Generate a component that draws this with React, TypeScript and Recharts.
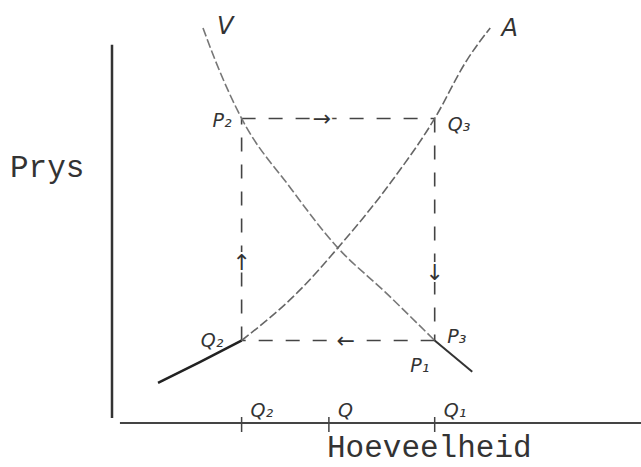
import React from 'react';
import {ComposedChart, Line, XAxis, YAxis, ReferenceLine, ReferenceDot} from 'recharts';

// V = vraag, A = aanbod (units 0..10 on both axes)
const demandQ = [1.72, 1.95, 2.45, 3.36, 4.27, 5.16, 6.1, 6.81];
const demandP = [9.34, 8.58, 7.2, 5.58, 4.14, 3.1, 1.95, 1.21];
const supplyQ = [0.87, 1.66, 2.45, 3.55, 4.27, 5.26, 6.1, 6.71, 7.15];
const supplyP = [0.95, 1.44, 1.95, 3.14, 4.14, 5.67, 7.2, 8.58, 9.34];

const qTicks = [2.45, 4.1, 6.1];
const qTickLabels = ['Q₂', 'Q', 'Q₁'];

// corners of the cobweb: Q2 / Q1 and P1 / P2
const cobwebQ = [2.45, 6.1];
const cobwebP = [1.95, 7.2];

const arrowQ = [3.97, 6.1, 4.42, 2.45];
const arrowP = [7.2, 3.55, 1.95, 3.8];
const arrowGlyphs = ['→', '↓', '←', '↑'];

const pointLabels = ['V', 'A', 'P₂', 'Q₃', 'Q₂', 'P₃', 'P₁'];
const pointLabelQ = [2.14, 7.52, 2.08, 6.56, 1.89, 6.52, 5.82];
const pointLabelP = [9.39, 9.34, 7.16, 7.07, 1.96, 2.06, 1.37];

const toPoints = (qs: number[], ps: number[]) => qs.map((q, i) => ({q, p: ps[i]}));
const demand = toPoints(demandQ, demandP);
const supply = toPoints(supplyQ, supplyP);

const typeFont = '"Liberation Mono", "Courier New", monospace';
const handFont = '"DejaVu Sans", sans-serif';

const Tag = (props: any) => {
	const vb = props.viewBox;
	return <text x={vb.x + vb.width / 2} y={vb.y + vb.height / 2} textAnchor="middle" dominantBaseline="central"
		fontFamily={handFont} fontStyle={props.italic ? 'italic' : 'normal'} fontSize={props.size}
		fill="#333" stroke="#fff" strokeWidth={props.halo ? 4 : 0} paintOrder="stroke">{props.text}</text>;
};

const QTick = (props: any) => {
	const {x, y, payload, index} = props;
	return <g>
		<line x1={x} y1={y - 6} x2={x} y2={y + 9} stroke="#444" strokeWidth={1.5}/>
		<text x={x + 9} y={y - 6} fontFamily={handFont} fontStyle="italic" fontSize={19} fill="#333">
			{qTickLabels[index] ?? qTickLabels[qTicks.indexOf(payload.value)]}
		</text>
	</g>;
};

const PrysTitle = (props: any) => {
	const vb = props.viewBox;
	return <text x={vb.x + 10} y={vb.y + 177} fontFamily={typeFont} fontSize={31} fill="#333">Prys</text>;
};

const HoeveelheidTitle = (props: any) => {
	const vb = props.viewBox;
	return <text x={vb.x + 215} y={vb.y + 34} fontFamily={typeFont} fontSize={31} fill="#333">Hoeveelheid</text>;
};

export default function App() {
	const dash = '14 13';
	return <div style={{position: 'absolute', left: 0, top: 0, background: '#fff'}}>
		<ComposedChart width={641} height={467} margin={{top: 0, right: 0, bottom: 0, left: 0}}>
			<XAxis type="number" dataKey="q" domain={[0, 10]} ticks={qTicks} tick={<QTick/>} tickSize={0} tickMargin={0}
				axisLine={false} tickLine={false} height={44} interval={0} allowDataOverflow
				label={<HoeveelheidTitle/>}/>
			<YAxis type="number" dataKey="p" domain={[0, 10]} width={112} tick={false} axisLine={false} tickLine={false}
				allowDataOverflow label={<PrysTitle/>}/>

			{/* axes as drawn by hand, not touching */}
			<ReferenceLine segment={[{x: 0, y: 0.12}, {x: 0, y: 8.94}]} stroke="#333" strokeWidth={2.5} ifOverflow="visible"/>
			<ReferenceLine segment={[{x: 0.15, y: 0}, {x: 10, y: 0}]} stroke="#444" strokeWidth={2} ifOverflow="visible"/>

			{/* cobweb rectangle */}
			<ReferenceLine segment={[{x: cobwebQ[0], y: cobwebP[1]}, {x: cobwebQ[1], y: cobwebP[1]}]} stroke="#444" strokeWidth={1.6} strokeDasharray={dash}/>
			<ReferenceLine segment={[{x: cobwebQ[1], y: cobwebP[1]}, {x: cobwebQ[1], y: cobwebP[0]}]} stroke="#444" strokeWidth={1.6} strokeDasharray={dash}/>
			<ReferenceLine segment={[{x: cobwebQ[1], y: cobwebP[0]}, {x: cobwebQ[0], y: cobwebP[0]}]} stroke="#444" strokeWidth={1.6} strokeDasharray={dash}/>
			<ReferenceLine segment={[{x: cobwebQ[0], y: cobwebP[0]}, {x: cobwebQ[0], y: cobwebP[1]}]} stroke="#444" strokeWidth={1.6} strokeDasharray={dash}/>

			<Line data={demand.slice(0, 7)} dataKey="p" type="monotone" stroke="#777" strokeWidth={1.6} strokeDasharray="9 3"
				dot={false} activeDot={false} isAnimationActive={false}/>
			<Line data={demand.slice(6)} dataKey="p" type="monotone" stroke="#333" strokeWidth={2}
				dot={false} activeDot={false} isAnimationActive={false}/>
			<Line data={supply.slice(0, 3)} dataKey="p" type="monotone" stroke="#222" strokeWidth={2.6}
				dot={false} activeDot={false} isAnimationActive={false}/>
			<Line data={supply.slice(2)} dataKey="p" type="monotone" stroke="#666" strokeWidth={1.6} strokeDasharray="9 3"
				dot={false} activeDot={false} isAnimationActive={false}/>

			{arrowGlyphs.map((g, i) =>
				<ReferenceDot key={'a' + i} x={arrowQ[i]} y={arrowP[i]} r={1} fill="none" stroke="none"
					label={<Tag text={g} size={22} halo/>}/>)}
			{pointLabels.map((t, i) =>
				<ReferenceDot key={'l' + i} x={pointLabelQ[i]} y={pointLabelP[i]} r={1} fill="none" stroke="none"
					label={<Tag text={t} size={i < 2 ? 24 : 19} italic/>}/>)}
		</ComposedChart>
	</div>;
}
